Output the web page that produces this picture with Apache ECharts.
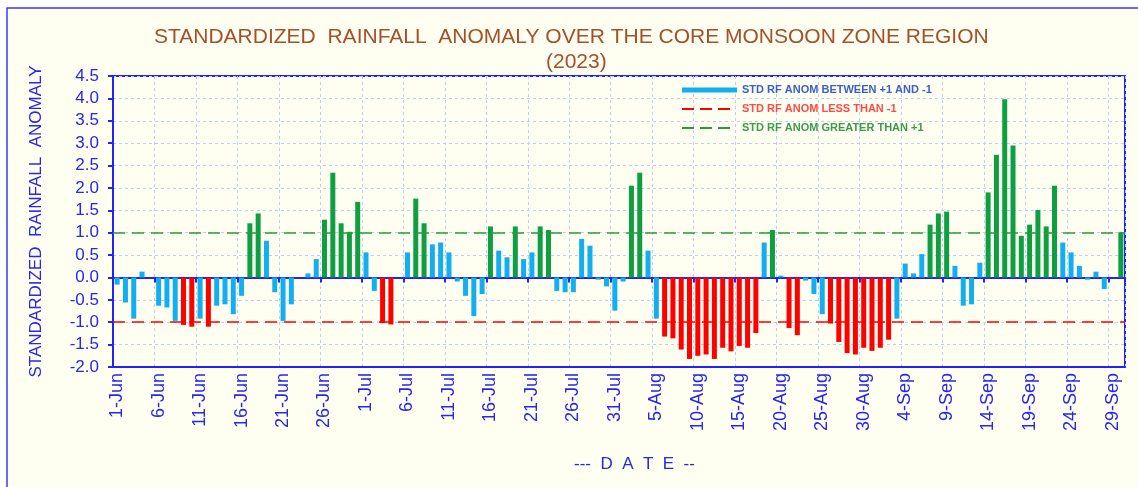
<!DOCTYPE html>
<html>
<head>
<meta charset="utf-8">
<title>Standardized Rainfall Anomaly 2023</title>
<script src="https://cdn.jsdelivr.net/npm/echarts@6/dist/echarts.min.js"></script>
<style>
  html, body { margin: 0; padding: 0; background: #fff; }
  #chart { width: 1138px; height: 487px; }
</style>
</head>
<body>
<div id="chart"></div>
<script>
// months of the core monsoon season
const months = ['Jun', 'Jul', 'Aug', 'Sep']
const monthDays = [30, 31, 31, 30]

// daily standardized rainfall anomaly
const anomJun = [-0.16, -0.56, -0.92, 0.13, 0, -0.63, -0.67, -0.97, -1.06, -1.10,
  -0.92, -1.10, -0.63, -0.60, -0.82, -0.41, 1.21, 1.43, 0.82, -0.33,
  -0.97, -0.60, 0, 0.09, 0.41, 1.29, 2.34, 1.21, 1.02, 1.69]
const anomJul = [0.56, -0.30, -1.02, -1.05, 0, 0.56, 1.76, 1.21, 0.74, 0.78,
  0.56, -0.09, -0.41, -0.86, -0.37, 1.14, 0.60, 0.45, 1.14, 0.41,
  0.56, 1.14, 1.06, -0.30, -0.33, -0.33, 0.86, 0.71, -0.05, -0.20, -0.74]
const anomAug = [-0.09, 2.05, 2.34, 0.60, -0.92, -1.32, -1.36, -1.61, -1.82, -1.75,
  -1.72, -1.82, -1.57, -1.65, -1.53, -1.57, -1.24, 0.78, 1.06, 0.04,
  -1.13, -1.29, -0.07, -0.37, -0.82, -1.03, -1.44, -1.69, -1.72, -1.57, -1.64]
const anomSep = [-1.57, -1.39, -0.92, 0.31, 0.09, 0.52, 1.18, 1.43, 1.47, 0.26,
  -0.63, -0.60, 0.33, 1.90, 2.74, 3.98, 2.95, 0.93, 1.18, 1.51,
  1.14, 2.05, 0.78, 0.56, 0.26, -0.05, 0.13, -0.26, 0, 1.01]
// bars drawn green in the source although just under +1
const forcedGreen = ['18-Sep']

const upper = 1
const lower = -1

const dates = []
months.forEach((m, i) => {
  for (let d = 1; d <= monthDays[i]; d++) dates.push(d + '-' + m)
})
const anomaly = [].concat(anomJun, anomJul, anomAug, anomSep)

const BLUE_TXT = '#2626ee'
const AXIS = '#2222ff'
const C_MID = '#12aef0'
const C_LOW = '#ff0000'
const C_HIGH = '#0e9f42'
const C_HIGH_LINE = '#2e9a3c'
const FONT = '"Liberation Sans", Arial, sans-serif'
// three short dashes, with tiny corner marks so the icon keeps a 55x5 box
const DASH_ICON = 'path://M0,0h0.01v0.01h-0.01z M54.99,4.99h0.01v0.01h-0.01z ' +
  'M0,1.5h12v2h-12z M18,1.5h12v2h-12z M36,1.5h12v2h-12z'

const barData = anomaly.map((v, i) => {
  let color = C_MID
  if (v > upper || forcedGreen.indexOf(dates[i]) > -1) color = C_HIGH
  else if (v < lower) color = C_LOW
  return { value: v, itemStyle: { color: color } }
})

const chart = echarts.init(document.getElementById('chart'))
chart.setOption({
  backgroundColor: '#ffffff',
  animation: false,
  textStyle: { fontFamily: FONT },
  graphic: [
    {
      type: 'rect', z: -100, silent: true,
      shape: { x: 7, y: 8, width: 1150, height: 500 },
      style: { fill: '#fefef1', stroke: '#3a3aff', lineWidth: 1.5 }
    },
    {
      type: 'text', left: 579 - 425, top: 27,
      style: {
        text: 'STANDARDIZED  RAINFALL  ANOMALY OVER THE CORE MONSOON ZONE REGION',
        fill: '#a4502c', font: '21px ' + FONT, width: 850, align: 'center'
      }
    },
    {
      type: 'text', left: 546, top: 52,
      style: { text: '(2023)', fill: '#a4502c', font: '21px ' + FONT }
    },
    {
      type: 'text', left: 574, top: 456,
      style: { text: '---  D  A  T  E  --', fill: BLUE_TXT, font: '17px ' + FONT }
    }
  ],
  grid: {
    left: 113, right: 13, top: 76, bottom: 120,
    show: true, borderColor: AXIS, borderWidth: 2
  },
  legend: {
    orient: 'vertical',
    left: 677, top: 79,
    itemWidth: 55, itemHeight: 5, itemGap: 7,
    selectedMode: false,
    textStyle: { fontSize: 11, fontWeight: 'bold', lineHeight: 12, fontFamily: FONT },
    data: [
      { name: 'STD RF ANOM BETWEEN +1 AND -1', icon: 'rect', itemStyle: { color: C_MID }, textStyle: { color: '#3a5fcd' } },
      { name: 'STD RF ANOM LESS THAN -1', icon: DASH_ICON, itemStyle: { color: C_LOW }, textStyle: { color: '#ff4a4a' } },
      { name: 'STD RF ANOM GREATER THAN +1', icon: DASH_ICON, itemStyle: { color: C_HIGH_LINE }, textStyle: { color: '#3c9a4c' } }
    ]
  },
  xAxis: [
    {
      type: 'category',
      data: dates,
      position: 'bottom',
      axisLine: { onZero: false, lineStyle: { color: AXIS, width: 2 } },
      axisTick: { show: false },
      axisLabel: { interval: 4, rotate: 90, margin: 6, color: BLUE_TXT, fontSize: 18 },
      splitLine: { show: true, interval: 4, lineStyle: { color: '#bfcdf0', type: [3, 3] } }
    },
    {
      type: 'category',
      data: dates,
      position: 'top',
      axisLine: { onZero: true, lineStyle: { color: AXIS, width: 2 } },
      axisTick: { show: true, inside: true, length: 5, interval: 4, lineStyle: { color: AXIS, width: 2 } },
      axisLabel: { show: false },
      splitLine: { show: false }
    }
  ],
  yAxis: {
    type: 'value',
    min: -2, max: 4.5, interval: 0.5,
    name: 'STANDARDIZED  RAINFALL  ANOMALY',
    nameLocation: 'middle', nameGap: 68,
    nameTextStyle: { color: BLUE_TXT, fontSize: 17 },
    axisLine: { show: true, lineStyle: { color: AXIS, width: 2 } },
    axisTick: { show: true, length: 5, lineStyle: { color: AXIS, width: 2 } },
    axisLabel: { color: BLUE_TXT, fontSize: 17, margin: 14, formatter: v => v.toFixed(1) },
    splitLine: { lineStyle: { color: '#bfcdf0', type: [3, 3] } }
  },
  series: [
    {
      name: 'STD RF ANOM BETWEEN +1 AND -1',
      type: 'bar',
      xAxisIndex: 0,
      barWidth: 5,
      data: barData
    },
    {
      name: 'STD RF ANOM LESS THAN -1',
      type: 'line',
      symbol: 'none',
      data: [],
      itemStyle: { color: C_LOW },
      lineStyle: { color: C_LOW, width: 2, type: [12, 7] },
      markLine: {
        silent: true, symbol: 'none', label: { show: false },
        lineStyle: { color: C_LOW, width: 1.5, type: [12, 7] },
        data: [{ yAxis: lower }]
      }
    },
    {
      name: 'STD RF ANOM GREATER THAN +1',
      type: 'line',
      symbol: 'none',
      data: [],
      itemStyle: { color: C_HIGH_LINE },
      lineStyle: { color: C_HIGH_LINE, width: 2, type: [12, 7] },
      markLine: {
        silent: true, symbol: 'none', label: { show: false },
        lineStyle: { color: C_HIGH_LINE, width: 1.5, type: [12, 7] },
        data: [{ yAxis: upper }]
      }
    }
  ]
})
</script>
</body>
</html>
